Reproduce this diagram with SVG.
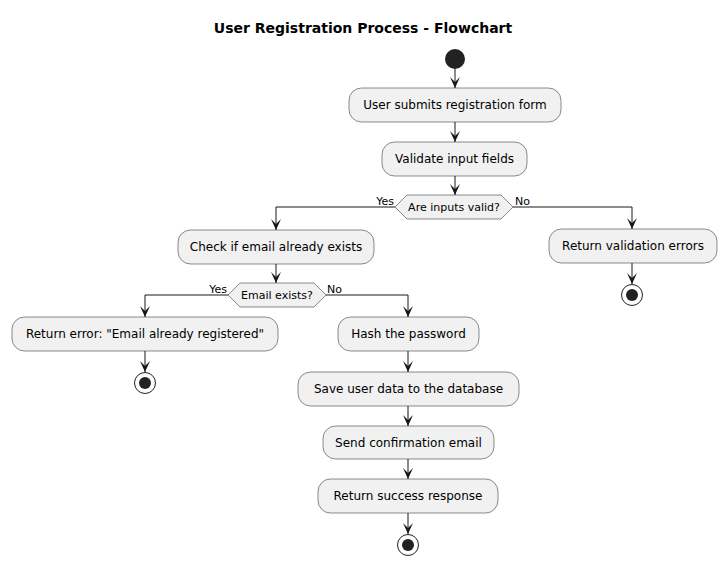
<svg xmlns="http://www.w3.org/2000/svg" width="727" height="565" viewBox="0 0 727 565">
<style>
.box{fill:#F1F1F1;stroke:#181818;stroke-width:0.5}
.dia{fill:#F1F1F1;stroke:#181818;stroke-width:0.5}
.t{font-family:"DejaVu Sans",sans-serif;font-size:12px;fill:#000;text-anchor:middle}
.dt{font-family:"DejaVu Sans",sans-serif;font-size:11px;fill:#000;text-anchor:middle}
.lbl{font-family:"DejaVu Sans",sans-serif;font-size:11px;fill:#000}
.ln{fill:none;stroke:#181818;stroke-width:1}
.title{font-family:"DejaVu Sans",sans-serif;font-size:14px;font-weight:bold;fill:#000;text-anchor:middle}
</style>
<defs>
<marker id="ah" viewBox="0 0 11 10" refX="11" refY="5" markerWidth="11" markerHeight="10" markerUnits="userSpaceOnUse" orient="auto">
<polygon points="0,0 11,5 0,10 5,5" fill="#181818"/>
</marker>
</defs>
<rect width="727" height="565" fill="#FFFFFF"/>
<text class="title" x="363" y="33">User Registration Process - Flowchart</text>
<g id="connectors">
<path class="ln" d="M455,69 V88" marker-end="url(#ah)"/>
<path class="ln" d="M455,122 V142" marker-end="url(#ah)"/>
<path class="ln" d="M455,176 V195" marker-end="url(#ah)"/>
<path class="ln" d="M395,207 H276 V230" marker-end="url(#ah)"/>
<path class="ln" d="M513,207 H632 V229" marker-end="url(#ah)"/>
<path class="ln" d="M632,263 V284" marker-end="url(#ah)"/>
<path class="ln" d="M276,264 V283" marker-end="url(#ah)"/>
<path class="ln" d="M228,295 H145 V317" marker-end="url(#ah)"/>
<path class="ln" d="M326,295 H408 V317" marker-end="url(#ah)"/>
<path class="ln" d="M145,351 V372" marker-end="url(#ah)"/>
<path class="ln" d="M408,351 V372" marker-end="url(#ah)"/>
<path class="ln" d="M408,406 V426" marker-end="url(#ah)"/>
<path class="ln" d="M408,459 V479" marker-end="url(#ah)"/>
<path class="ln" d="M408,513 V534" marker-end="url(#ah)"/>
<text class="lbl" x="394" y="205" text-anchor="end">Yes</text>
<text class="lbl" x="515" y="205">No</text>
<text class="lbl" x="227" y="293" text-anchor="end">Yes</text>
<text class="lbl" x="327" y="293">No</text>
</g>
<g id="start"><circle cx="455" cy="59" r="10" fill="#222222"/></g>
<g id="submit"><rect class="box" x="349" y="88" width="212" height="34" rx="12.5"/><text class="t" x="455" y="109">User submits registration form</text></g>
<g id="validate"><rect class="box" x="382" y="142" width="145" height="34" rx="12.5"/><text class="t" x="454.5" y="163">Validate input fields</text></g>
<g id="valid_q"><polygon class="dia" points="395,207 407,195 501,195 513,207 501,219 407,219"/><text class="dt" x="454" y="211">Are inputs valid?</text></g>
<g id="check_email"><rect class="box" x="178" y="230" width="196" height="34" rx="12.5"/><text class="t" x="276" y="251">Check if email already exists</text></g>
<g id="val_errors"><rect class="box" x="549" y="229" width="168" height="34" rx="12.5"/><text class="t" x="633" y="250">Return validation errors</text></g>
<g id="end1"><circle cx="632" cy="295" r="10.5" fill="none" stroke="#222222" stroke-width="1"/><circle cx="632" cy="295" r="6" fill="#222222"/></g>
<g id="exists_q"><polygon class="dia" points="228,295 240,283 314,283 326,295 314,307 240,307"/><text class="dt" x="277" y="299">Email exists?</text></g>
<g id="email_error"><rect class="box" x="12" y="317" width="266" height="34" rx="12.5"/><text class="t" x="145" y="338">Return error: "Email already registered"</text></g>
<g id="end2"><circle cx="145" cy="383" r="10.5" fill="none" stroke="#222222" stroke-width="1"/><circle cx="145" cy="383" r="6" fill="#222222"/></g>
<g id="hash"><rect class="box" x="338" y="317" width="141" height="34" rx="12.5"/><text class="t" x="408.5" y="338">Hash the password</text></g>
<g id="save"><rect class="box" x="298" y="372" width="221" height="34" rx="12.5"/><text class="t" x="408.5" y="393">Save user data to the database</text></g>
<g id="send"><rect class="box" x="323" y="426" width="171" height="33" rx="12.5"/><text class="t" x="408.5" y="447">Send confirmation email</text></g>
<g id="success"><rect class="box" x="318" y="479" width="180" height="34" rx="12.5"/><text class="t" x="408" y="500">Return success response</text></g>
<g id="end3"><circle cx="408" cy="545" r="10.5" fill="none" stroke="#222222" stroke-width="1"/><circle cx="408" cy="545" r="6" fill="#222222"/></g>
</svg>
